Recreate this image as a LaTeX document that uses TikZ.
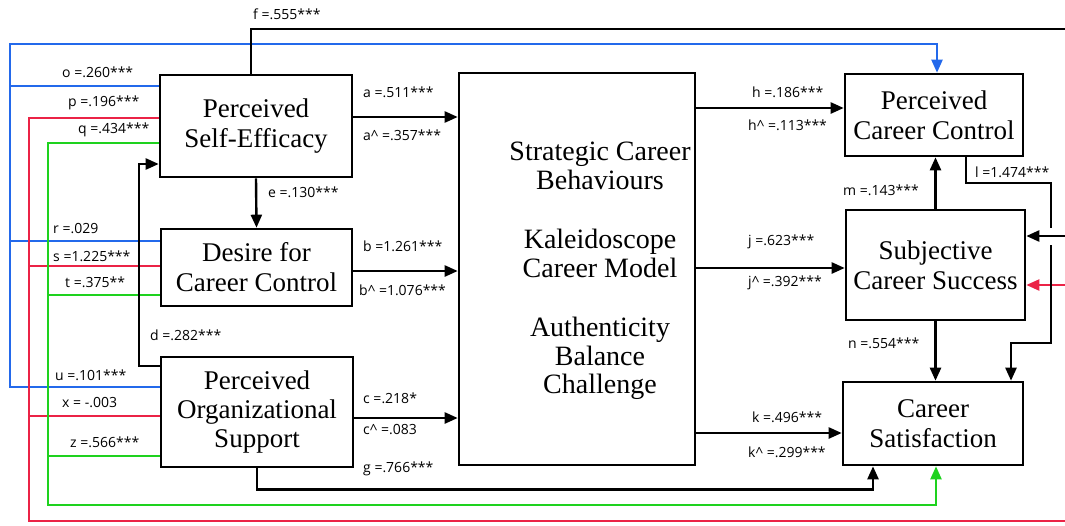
\documentclass[tikz,border=0pt]{standalone}
\usepackage{fontspec}
\setmainfont{Liberation Serif}
\newfontfamily\coeffont{Open Sans}
\usetikzlibrary{arrows.meta}
\begin{document}
\begin{tikzpicture}[x=1pt,y=-1pt]
\tikzstyle{box}=[draw,line width=2.6pt,inner sep=0pt,align=center,font=\fontsize{27}{30}\selectfont]
\tikzstyle{tip}=[-{Triangle[length=13pt,width=11pt]}]
\tikzstyle{plain}=[line width=2.4pt]
\tikzstyle{link}=[plain,tip]
\tikzstyle{cline}=[line width=2.2pt]
\tikzstyle{coef}=[anchor=west,inner sep=0pt,font=\coeffont\fontsize{14}{16}\selectfont]
\definecolor{bluecolor}{RGB}{35,105,235}
\definecolor{redcolor}{RGB}{235,35,70}
\definecolor{greencolor}{RGB}{30,210,30}
\useasboundingbox (0,0) rectangle (1065,525);
\node[box,minimum width=192pt,minimum height=102pt] (se) at (256,126) {Perceived\\Self-Efficacy};
\node[box,minimum width=191pt,minimum height=77pt] (dcc) at (256.5,267.5) {Desire for\\Career Control};
\node[box,minimum width=192pt,minimum height=110pt,font=\fontsize{27}{29}\selectfont] (pos) at (257,412) {Perceived\\Organizational\\Support};
\node[box,minimum width=236pt,minimum height=392pt] (scb) at (577,269) {};
\node[align=center,inner sep=0pt,font=\fontsize{28}{28.5}\selectfont] (scbtext) at (600,271) {Strategic Career\\Behaviours\\[31pt]Kaleidoscope\\Career Model\\[31pt]Authenticity\\Balance\\Challenge};
\node[box,minimum width=178pt,minimum height=82pt] (pcc) at (934,115) {Perceived\\Career Control};
\node[box,minimum width=179pt,minimum height=110pt] (scs) at (935.5,265) {Subjective\\Career Success};
\node[box,minimum width=180pt,minimum height=83pt] (cs) at (933,423.5) {Career\\Satisfaction};
\draw[cline,bluecolor,tip] ([yshift=25pt]pos.west) -| (10,44) -| ([xshift=3pt]pcc.north);
\draw[cline,bluecolor] ([yshift=40pt]se.west) -- (10,86);
\draw[cline,bluecolor] ([yshift=26.5pt]dcc.west) -- (10,241);
\draw[cline,redcolor,tip] ([yshift=8pt]se.west) -| (29,521) -| (1068,285) -- ([yshift=-20pt]scs.east);
\draw[cline,redcolor] ([yshift=1.5pt]dcc.west) -- (29,266);
\draw[cline,redcolor] ([yshift=-4pt]pos.west) -- (29,416);
\draw[cline,greencolor,tip] ([yshift=-17pt]se.west) -| (48,505) -| ([xshift=3pt]cs.south);
\draw[cline,greencolor] ([yshift=-27.5pt]dcc.west) -- (48,295);
\draw[cline,greencolor] ([yshift=-44pt]pos.west) -- (48,456);
\draw[link] ([yshift=9pt]se.east) -- ([yshift=9pt]se.east -| scb.west);
\draw[link] ([yshift=-3.5pt]dcc.east) -- ([yshift=-3.5pt]dcc.east -| scb.west);
\draw[link] ([yshift=-6pt]pos.east) -- ([yshift=-6pt]pos.east -| scb.west);
\draw[link] ([yshift=7pt]pcc.west -| scb.east) -- ([yshift=7pt]pcc.west);
\draw[link] ([yshift=-3pt]scs.west -| scb.east) -- ([yshift=-3pt]scs.west);
\draw[link] ([yshift=-9.5pt]cs.west -| scb.east) -- ([yshift=-9.5pt]cs.west);
\draw[link] (se.south) -- (dcc.north);
\draw[link] (scs.north) -- (scs.north |- pcc.south);
\draw[link] (scs.south) -- (scs.south |- cs.north);
\draw[link] ([yshift=46pt]pos.west) -- ++(-21,0) |- ([yshift=-38pt]se.west);
\draw[link] (pos.south) -- ++(0,21) -| ([xshift=-60pt]cs.south);
\draw[link] ([xshift=32pt]pcc.south) |- (1051,183) -- (1051,343) -| ([xshift=78pt]cs.north);
\draw[white,line width=6pt] (1051,228) -- (1051,245);
\draw[link] ([xshift=-5pt]se.north) |- (1068,29) |- ([yshift=29pt]scs.east);
\node[coef] (lf) at (253,14) {f =.555***};
\node[coef] (lo) at (62,72) {o =.260***};
\node[coef] (lp) at (68,103) {p =.196***};
\node[coef] (lq) at (78,130) {q =.434***};
\node[coef] (lr) at (53,229) {r =.029};
\node[coef] (ls) at (53,256) {s =1.225***};
\node[coef] (lt) at (65,282) {t =.375**};
\node[coef] (ld) at (150,335) {d =.282***};
\node[coef] (lu) at (55,375) {u =.101***};
\node[coef] (lx) at (62,403) {x = -.003};
\node[coef] (lz) at (70,442) {z =.566***};
\node[coef] (la) at (363,92) {a =.511***};
\node[coef] (laa) at (363,135) {a\textasciicircum{} =.357***};
\node[coef] (le) at (268,192) {e =.130***};
\node[coef] (lb) at (363,246) {b =1.261***};
\node[coef] (lbb) at (359,290) {b\textasciicircum{} =1.076***};
\node[coef] (lc) at (363,398) {c =.218*};
\node[coef] (lcc) at (363,430) {c\textasciicircum{} =.083};
\node[coef] (lg) at (363,469) {g =.766***};
\node[coef] (lh) at (752,92) {h =.186***};
\node[coef] (lhh) at (748,125) {h\textasciicircum{} =.113***};
\node[coef] (lj) at (748,242) {j =.623***};
\node[coef] (ljj) at (748,283) {j\textasciicircum{} =.392***};
\node[coef] (lk) at (752,417) {k =.496***};
\node[coef] (lkk) at (748,452) {k\textasciicircum{} =.299***};
\node[coef] (lm) at (843,190) {m =.143***};
\node[coef] (ln) at (848,343) {n =.554***};
\node[coef] (ll) at (975,172) {l =1.474***};
\end{tikzpicture}
\end{document}
